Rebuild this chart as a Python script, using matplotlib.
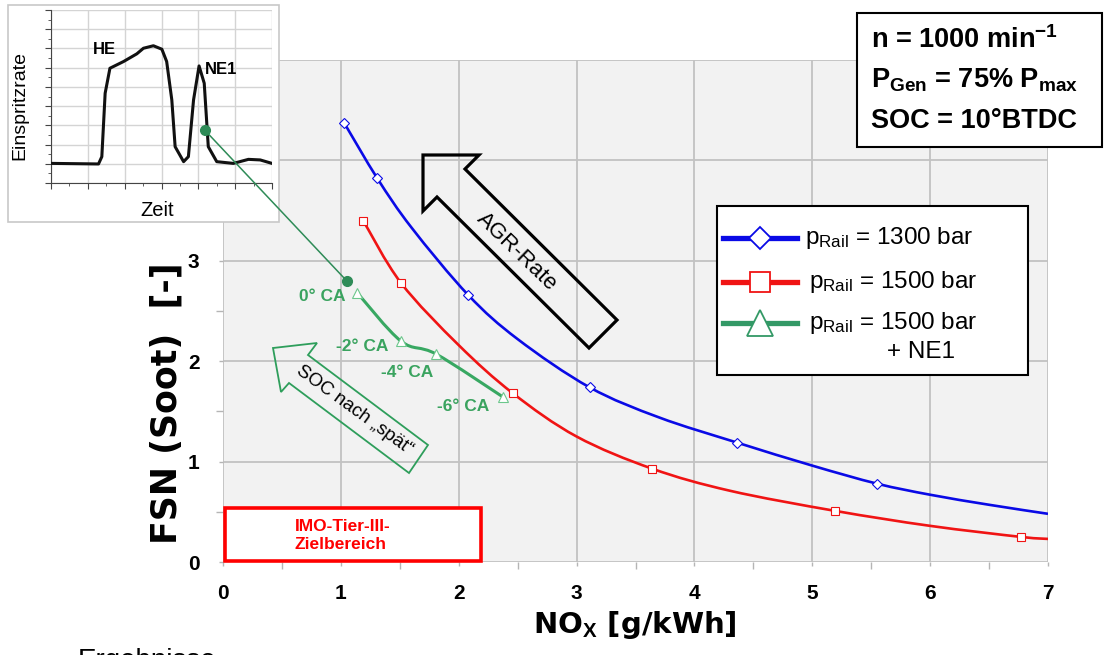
import matplotlib
matplotlib.use('Agg')
import matplotlib.pyplot as plt
import matplotlib.transforms as mtransforms
from matplotlib.lines import Line2D
from matplotlib.path import Path
from matplotlib.patches import Polygon, Rectangle, ConnectionPatch, PathPatch

plt.rcParams['font.family'] = ['Liberation Sans', 'DejaVu Sans']
plt.rcParams['mathtext.fontset'] = 'custom'
plt.rcParams['mathtext.rm'] = 'Liberation Sans'
plt.rcParams['mathtext.bf'] = 'Liberation Sans:bold'
plt.rcParams['mathtext.it'] = 'Liberation Sans:italic'

# ---- values ----
# p_Rail = 1300 bar (markers, and points along the drawn trend line)
nox_1300 = [1.03, 1.31, 2.08, 3.11, 4.36, 5.55]
fsn_1300 = [4.37, 3.82, 2.66, 1.74, 1.19, 0.78]
line_nox_1300 = [1.03, 1.31, 1.60, 2.08, 2.50, 3.11, 3.70, 4.36, 5.00, 5.55, 6.00, 6.50, 7.00]
line_fsn_1300 = [4.37, 3.82, 3.33, 2.66, 2.22, 1.74, 1.44, 1.19, 0.96, 0.78, 0.67, 0.57, 0.48]

# p_Rail = 1500 bar
nox_1500 = [1.19, 1.51, 2.46, 3.64, 5.19, 6.77]
fsn_1500 = [3.40, 2.78, 1.68, 0.93, 0.51, 0.25]
line_nox_1500 = [1.19, 1.51, 2.00, 2.46, 3.00, 3.64, 4.30, 5.19, 6.00, 6.77, 7.00]
line_fsn_1500 = [3.40, 2.78, 2.16, 1.68, 1.25, 0.93, 0.71, 0.51, 0.36, 0.25, 0.23]

# p_Rail = 1500 bar + NE1, SOC variation
nox_ne1 = [1.14, 1.51, 1.81, 2.38]
fsn_ne1 = [2.68, 2.20, 2.07, 1.64]
soc_labels = ['0° CA', '-2° CA', '-4° CA', '-6° CA']
soc_label_x = [0.84, 1.18, 1.56, 2.04]
soc_label_y = [2.64, 2.15, 1.89, 1.55]
ne1_point = (1.05, 2.80)

x_ticks = [0, 1, 2, 3, 4, 5, 6, 7]
y_ticks = [0, 1, 2, 3, 4, 5]

# injection rate trace in the inset (arbitrary units)
zeit = [0.02, 1.29, 1.38, 1.47, 1.60, 1.97, 2.33, 2.51, 2.78, 3.01, 3.14, 3.28, 3.37,
        3.60, 3.73, 3.87, 4.02, 4.16, 4.27, 4.50, 4.95, 5.36, 5.68, 6.00]
rate = [1.02, 0.99, 1.37, 4.67, 5.97, 6.32, 6.72, 7.01, 7.14, 6.96, 6.32, 4.32, 1.89,
        1.11, 1.37, 4.32, 6.09, 5.19, 1.89, 1.11, 1.02, 1.23, 1.20, 1.02]
ne1_inset_point = (4.17, 2.76)

BLUE = '#0a0ae6'
RED = '#f01414'
GREEN = '#38a862'
GREEN_TXT = '#3aa35f'

W, H = 1106, 655
fig = plt.figure(figsize=(W / 100, H / 100), dpi=100)
# pixel coordinates (origin top-left) -> figure
pix = mtransforms.Affine2D().scale(1 / W, -1 / H).translate(0, 1) + fig.transFigure


def fpos(x, y):
    return x / W, 1 - y / H


def smooth_path(xs, ys):
    """Smoothed line through the points (like a spreadsheet 'smoothed line')."""
    pts = list(zip(xs, ys))
    ext = [pts[0]] + pts + [pts[-1]]
    verts = [pts[0]]
    codes = [Path.MOVETO]
    for i in range(1, len(ext) - 2):
        p0, p1, p2, p3 = ext[i - 1], ext[i], ext[i + 1], ext[i + 2]
        c1 = (p1[0] + (p2[0] - p0[0]) / 6, p1[1] + (p2[1] - p0[1]) / 6)
        c2 = (p2[0] - (p3[0] - p1[0]) / 6, p2[1] - (p3[1] - p1[1]) / 6)
        verts += [c1, c2, p2]
        codes += [Path.CURVE4] * 3
    return Path(verts, codes)


# ---- main axes ----
ax = fig.add_axes([223 / W, 1 - 562 / H, (1048 - 223) / W, (562 - 60) / H])
ax.set_facecolor('#f2f2f2')
ax.set_xlim(0, 7)
ax.set_ylim(0, 5)
ax.set_xticks(x_ticks)
ax.set_yticks(y_ticks)
ax.set_xticks([v + 0.5 for v in x_ticks[:-1]], minor=True)
ax.set_yticks([v + 0.5 for v in y_ticks[:-1]], minor=True)
ax.grid(True, which='major', color='#c2c2c2', lw=1.3)
for s in ax.spines.values():
    s.set_visible(False)
ax.tick_params(which='both', color='#b5b5b5', width=1)
ax.tick_params(which='major', length=3)
ax.tick_params(which='minor', length=5)
ax.tick_params(axis='x', pad=13)
ax.tick_params(axis='y', pad=14)
for lab in ax.get_xticklabels() + ax.get_yticklabels():
    lab.set_fontsize(15)
    lab.set_fontweight('bold')

ax.add_patch(PathPatch(smooth_path(line_nox_1300, line_fsn_1300), fill=False,
                       edgecolor=BLUE, lw=1.9, zorder=3))
ax.plot(nox_1300, fsn_1300, 'D', ms=5, mfc='white', mec=BLUE, mew=0.8, zorder=4)
ax.add_patch(PathPatch(smooth_path(line_nox_1500, line_fsn_1500), fill=False,
                       edgecolor=RED, lw=1.9, zorder=3))
ax.plot(nox_1500, fsn_1500, 's', ms=6, mfc='white', mec=RED, mew=0.8, zorder=4)
ax.add_patch(PathPatch(smooth_path(nox_ne1, fsn_ne1), fill=False,
                       edgecolor=GREEN, lw=2.2, zorder=3))
ax.plot(nox_ne1, fsn_ne1, '^', ms=7.5, mfc='white', mec='#6cc78c', mew=0.8, zorder=4)
ax.plot(*ne1_point, 'o', ms=7, color='#2e8b57', zorder=5)
for lab, lx, ly in zip(soc_labels, soc_label_x, soc_label_y):
    ax.text(lx, ly, lab, color=GREEN_TXT, fontsize=12.5, fontweight='bold',
            ha='center', va='center', zorder=5)

# IMO Tier III target area
ax.add_patch(Rectangle((0.02, 0.01), 2.17, 0.53, facecolor='white', edgecolor='#ff0000',
                       lw=2.6, zorder=3, clip_on=False))
ax.text(0.61, 0.26, 'IMO-Tier-III-\nZielbereich', color='#ff0000', fontsize=12.5,
        fontweight='bold', ha='left', va='center', linespacing=1.25, zorder=4)

# hollow arrows
agr = [(423, 155), (479, 155), (465, 169), (617, 320), (589, 348), (437, 197), (423, 211)]
ax.add_patch(Polygon(agr, closed=True, transform=pix, fill=False, edgecolor='black',
                     lw=2.3, joinstyle='miter', clip_on=False, zorder=3))
ax.text(*fpos(517, 252), 'AGR-Rate', transform=fig.transFigure, rotation=-44,
        fontsize=16, ha='center', va='center', rotation_mode='anchor', zorder=4)
soc = [(273, 348), (317, 343), (308, 355), (428, 445), (409, 473), (289, 383), (281, 392)]
ax.add_patch(Polygon(soc, closed=True, transform=pix, fill=False, edgecolor='#2e9e5b',
                     lw=1.3, joinstyle='miter', clip_on=False, zorder=3))
ax.text(*fpos(354, 410), 'SOC nach \u201espät\u201c', transform=fig.transFigure,
        rotation=-36, fontsize=13.5, ha='center', va='center', rotation_mode='anchor', zorder=4)

# axis titles
fig.text(*fpos(167, 403), 'FSN (Soot)  [-]', rotation=90, fontsize=25,
         family=['DejaVu Sans'], fontweight='bold', ha='center', va='center')
fig.text(*fpos(635, 625), r'NO$_{\mathbf{X}}$ [g/kWh]', fontsize=21,
         family=['DejaVu Sans'], fontweight='bold', ha='center', va='center')
fig.text(*fpos(78, 648), 'Ergebnisse', fontsize=20, ha='left', va='top')

# ---- legend box ----
fig.add_artist(Rectangle((717, 206), 311, 169, transform=pix, facecolor='white',
                         edgecolor='black', lw=1.5, zorder=3))
legend_rows = [
    (238, BLUE, 'D', 11.5, BLUE, r'p$_{\mathrm{Rail}}$ = 1300 bar', 805),
    (282, RED, 's', 15, RED, r'p$_{\mathrm{Rail}}$ = 1500 bar', 809),
    (323, '#339966', '^', 19, '#339966', r'p$_{\mathrm{Rail}}$ = 1500 bar', 809),
]
for y, col, mk, ms, mec, label, tx in legend_rows:
    x0, y0 = fpos(723, y)
    x1, _ = fpos(797, y)
    fig.add_artist(Line2D([x0, x1], [y0, y0], transform=fig.transFigure, color=col,
                          lw=3.8, zorder=3.5))
    fig.add_artist(Line2D([(x0 + x1) / 2], [y0], transform=fig.transFigure, marker=mk,
                          ms=ms, mfc='white', mec=mec, mew=1.3, zorder=3.6))
    fig.text(*fpos(tx, y), label, fontsize=17.5, ha='left', va='center', zorder=4)
fig.text(*fpos(887, 352), '+ NE1', fontsize=17.5, ha='left', va='center', zorder=4)

# ---- operating point box ----
fig.add_artist(Rectangle((857, 13), 245, 134, transform=pix, facecolor='white',
                         edgecolor='black', lw=1.5, zorder=3))
param_lines = [r'n = 1000 min$^{\mathbf{-1}}$',
               r'P$_{\mathbf{Gen}}$ = 75% P$_{\mathbf{max}}$',
               'SOC = 10°BTDC']
for y, txt in zip([40, 80, 121], param_lines):
    fig.text(*fpos(871, y), txt, fontsize=19.5, fontweight='bold', ha='left',
             va='center', zorder=4)

# ---- inset: injection rate ----
fig.add_artist(Rectangle((8, 5), 271, 217, transform=pix, facecolor='white',
                         edgecolor='#c8c8c8', lw=1.2, zorder=5))
ins = fig.add_axes([51 / W, 1 - 183 / H, (272 - 51) / W, (183 - 10) / H], zorder=6)
ins.set_facecolor('white')
ins.set_xlim(0, 6)
ins.set_ylim(0, 9)
ins.set_xticks(range(7))
ins.set_yticks(range(10))
ins.set_xticks([v + 0.5 for v in range(6)], minor=True)
ins.set_yticks([v + 0.5 for v in range(9)], minor=True)
ins.grid(True, which='major', color='#d4d4d4', lw=1)
ins.tick_params(which='both', labelbottom=False, labelleft=False, color='#444444')
ins.tick_params(which='major', length=4)
ins.tick_params(which='minor', length=2.5)
ins.spines['top'].set_visible(False)
ins.spines['right'].set_visible(False)
ins.spines['left'].set_color('#444444')
ins.spines['bottom'].set_color('#444444')
ins.plot(zeit, rate, color='#111111', lw=2.2, solid_joinstyle='round', zorder=3)
ins.plot(*ne1_inset_point, 'o', ms=7, color='#2e8b57', zorder=4)
ins.text(1.45, 6.95, 'HE', fontsize=12, fontweight='bold', ha='center', va='center')
ins.text(4.63, 5.9, 'NE1', fontsize=12, fontweight='bold', ha='center', va='center')
fig.text(*fpos(20, 105), 'Einspritzrate', rotation=90, fontsize=14, ha='center',
         va='center', zorder=7)
fig.text(*fpos(157, 211), 'Zeit', fontsize=14.5, ha='center', va='center', zorder=7)

con = ConnectionPatch(xyA=ne1_inset_point, coordsA=ins.transData, xyB=ne1_point,
                      coordsB=ax.transData, color='#2e8b57', lw=1.1, zorder=7)
fig.add_artist(con)

fig.savefig('out.png', dpi=100)
